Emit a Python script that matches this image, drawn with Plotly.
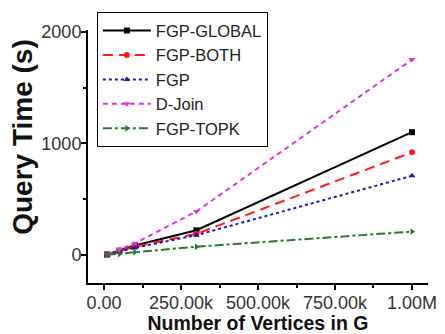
import plotly.graph_objects as go

vertices = [10000, 50000, 100000, 300000, 1000000]
fgp_global = [5, 40, 85, 222, 1100]
fgp_both = [5, 35, 75, 190, 920]
fgp = [4, 30, 65, 178, 710]
d_join = [6, 50, 105, 390, 1750]
fgp_topk = [2, 10, 25, 75, 210]

series_names = ["FGP-GLOBAL", "FGP-BOTH", "FGP", "D-Join", "FGP-TOPK"]
x_tickvals = [0, 250000, 500000, 750000, 1000000]
x_ticktext = ["0.00", "250.00k", "500.00k", "750.00k", "1.00M"]
y_tickvals = [0, 1000, 2000]
x_title = "Number of Vertices in G"
y_title = "Query Time (s)"

styles = [
    dict(color="#000000", dash="solid", symbol="square"),
    dict(color="#ff1a1a", dash="10px,6px", symbol="circle"),
    dict(color="#1a1ab0", dash="dot", symbol="triangle-up"),
    dict(color="#e033e0", dash="5px,4px", symbol="triangle-down"),
    dict(color="#2a7a2a", dash="dashdot", symbol="triangle-right"),
]

fig = go.Figure()
for name, ys, st in zip(series_names, [fgp_global, fgp_both, fgp, d_join, fgp_topk], styles):
    fig.add_trace(go.Scatter(
        x=vertices, y=ys, name=name, mode="lines+markers",
        line=dict(color=st["color"], dash=st["dash"], width=2),
        marker=dict(symbol=st["symbol"], size=6, color=st["color"]),
    ))

fig.update_layout(
    width=445, height=334,
    margin=dict(l=88, r=17, t=28, b=51),
    paper_bgcolor="white", plot_bgcolor="white",
    font=dict(family="Liberation Sans, Arial", color="#111"),
    showlegend=True,
    legend=dict(
        x=0.026, y=1.07, xanchor="left", yanchor="top",
        bgcolor="white", bordercolor="black", borderwidth=1,
        font=dict(size=16.5, color="#222"),
        tracegroupgap=0, itemwidth=48,
    ),
    xaxis=dict(
        range=[-52000, 1052000],
        tickvals=x_tickvals, ticktext=x_ticktext,
        ticks="outside", ticklen=5, tickwidth=1.5, tickcolor="black",
        minor=dict(dtick=125000, tick0=0, ticks="outside", ticklen=3, tickcolor="black"),
        showline=True, linecolor="black", linewidth=2,
        showgrid=False, zeroline=False, automargin=False,
        tickfont=dict(size=18, color="#333"),
        ticklabelstandoff=-3,
        title=dict(text="<b>" + x_title + "</b>", font=dict(size=19.5, color="#111"), standoff=0),
    ),
    yaxis=dict(
        range=[-250, 2015],
        tickvals=y_tickvals,
        ticks="outside", ticklen=5, tickwidth=1.5, tickcolor="black",
        minor=dict(dtick=500, tick0=0, ticks="outside", ticklen=3, tickcolor="black"),
        showline=True, linecolor="black", linewidth=2,
        showgrid=False, zeroline=False, automargin=False,
        tickfont=dict(size=18, color="#333"),
        ticklabelstandoff=-4,
    ),
    annotations=[dict(
        text="<b>" + y_title + "</b>", textangle=-90,
        xref="paper", yref="paper", x=-0.191, y=0.578,
        xanchor="center", yanchor="middle", showarrow=False,
        font=dict(size=28, color="#111"),
    )],
)

fig.write_html(
    "out.html",
    config={"displayModeBar": False},
    post_script="document.body.style.margin='0';document.body.style.padding='0';",
)
